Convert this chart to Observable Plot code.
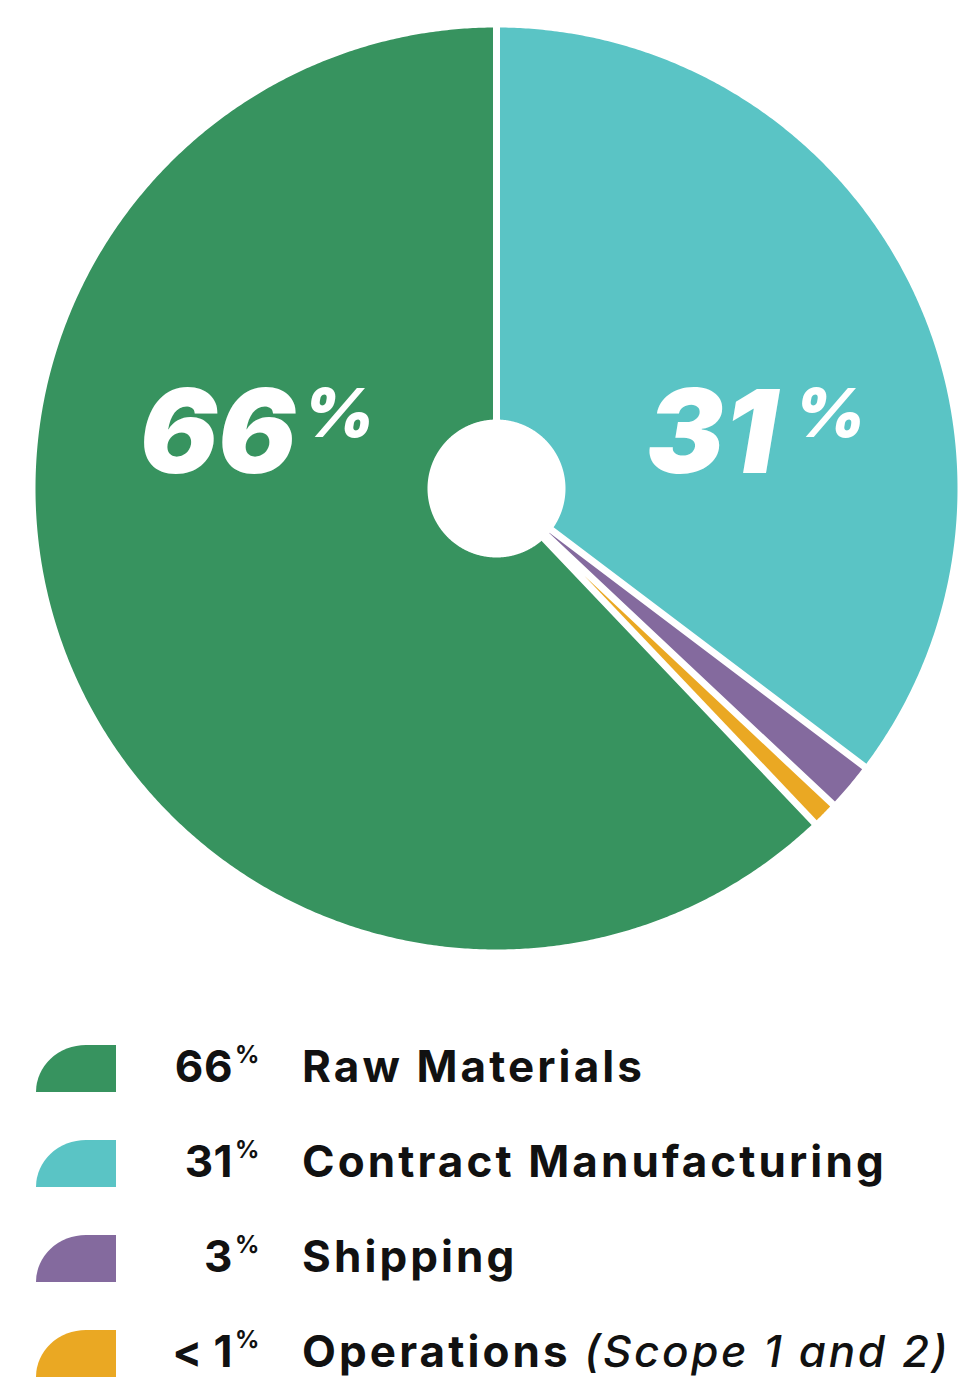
<!DOCTYPE html>
<html><head><meta charset="utf-8">
<script src="https://cdn.jsdelivr.net/npm/d3@7"></script>
<script src="https://cdn.jsdelivr.net/npm/@observablehq/plot@0.6"></script>
<style>
body{margin:0;background:#fff;}
#wrap{position:relative;width:974px;height:1384px;overflow:hidden;font-family:Inter,"Noto Sans",sans-serif;color:#111;}
#chart{position:absolute;left:0;top:0;}
.row{position:absolute;left:0;width:974px;height:60px;}
.sw{position:absolute;left:36px;top:0;width:80px;height:47px;border-top-left-radius:50px 47px;}
.num{position:absolute;left:0;width:233px;text-align:right;font-size:44px;line-height:44px;top:-1px;font-weight:700;letter-spacing:0.5px;white-space:pre;}
.pc{position:absolute;left:235px;font-size:24px;line-height:24px;top:-2px;font-weight:700;}
.lab{position:absolute;left:302px;font-size:44px;line-height:44px;top:-1px;font-weight:700;letter-spacing:3.1px;white-space:nowrap;}
.lab i{font-weight:500;letter-spacing:2.6px;}
</style></head><body><div id="wrap"><div id="chart"></div></div>
<script>
// ---- data ----
const categories = ["Raw Materials", "Contract Manufacturing", "Shipping", "Operations"];
const shares = [62.1, 35.3, 1.7, 0.9];          // share of the circle, as drawn
const pctLabels = ["66", "31", "3", "< 1"];      // printed percentages
const colors = ["#37935F", "#5AC4C5", "#846A9E", "#EAA823"];
const clockwiseOrder = ["Contract Manufacturing", "Shipping", "Operations", "Raw Materials"];
const notes = ["", "", "", "(Scope 1 and 2)"];

// ---- geometry ----
const W = 974, H = 985, cx = 496, cy = 488, R = 461, r0 = 69, h = 3.5;
const slices = d3.pie().sort(null).value(d => d.share)(
  clockwiseOrder.map(c => ({cat: c, share: shares[categories.indexOf(c)]}))
);
const pts = [];
for (const s of slices) {
  const a0 = s.startAngle, a1 = s.endAngle, cat = s.data.cat, da = a1 - a0;
  const push = (r, a) => pts.push({cat, x: r * Math.sin(a), y: r * Math.cos(a)});
  const n = Math.max(6, Math.ceil(da * 160));
  const dO = Math.asin(h / R);
  for (let i = 0; i <= n; i++) push(R, a0 + dO + (da - 2 * dO) * i / n);
  const rTip = h / Math.sin(da / 2);
  if (da < Math.PI && rTip > r0) push(rTip, (a0 + a1) / 2);
  else {
    const dI = Math.asin(h / r0);
    for (let i = n; i >= 0; i--) push(r0, a0 + dI + (da - 2 * dI) * i / n);
  }
}
const big = [
  {cat: "Raw Materials", dx: -357, px: -193},
  {cat: "Contract Manufacturing", dx: 150, px: 298}
].map(d => ({...d, num: pctLabels[categories.indexOf(d.cat)]}));

const plot = Plot.plot({
  width: W, height: H, margin: 0,
  x: {domain: [-cx, W - cx], axis: null},
  y: {domain: [cy - H, cy], axis: null},
  color: {domain: categories, range: colors},
  marks: [
    Plot.line(pts, {x: "x", y: "y", z: "cat", fill: "cat", stroke: "none"}),
    Plot.text(big, {x: d => d.dx, y: () => 16, text: "num", textAnchor: "start", lineAnchor: "bottom",
      fill: "white", fontSize: 116, fontWeight: 900, fontStyle: "italic", fontFamily: "Inter"}),
    Plot.text(big, {x: d => d.px, y: () => 52, text: () => "%", textAnchor: "start", lineAnchor: "bottom",
      fill: "white", fontSize: 68, fontWeight: 900, fontStyle: "italic", fontFamily: "Inter"})
  ]
});
document.getElementById("chart").appendChild(plot);

// ---- legend ----
const wrap = document.getElementById("wrap");
categories.forEach((c, i) => {
  const row = document.createElement("div");
  row.className = "row";
  row.style.top = (1045 + i * 95) + "px";
  row.innerHTML = `<div class="sw" style="background:${colors[i]}"></div>
    <span class="num">${pctLabels[i].replace("<", "&lt;")}</span><span class="pc">%</span>
    <span class="lab">${c}${notes[i] ? " <i>" + notes[i] + "</i>" : ""}</span>`;
  wrap.appendChild(row);
});
</script></body></html>
